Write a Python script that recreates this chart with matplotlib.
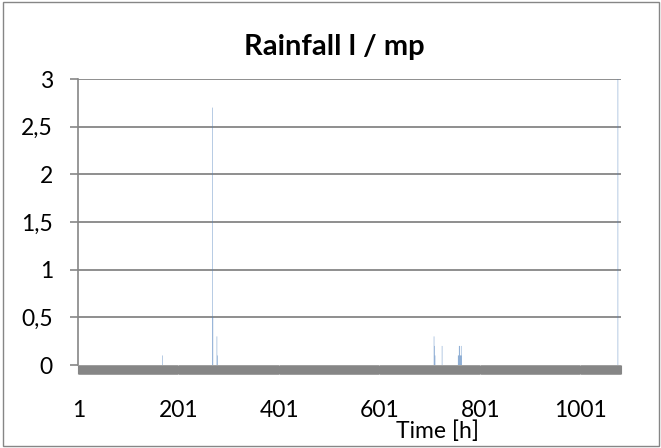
import numpy as np
import matplotlib
matplotlib.use("Agg")
import matplotlib.pyplot as plt
from matplotlib.patches import Rectangle

# --- data: hourly rainfall, only the non-zero hours are listed ---
n_hours = 1080
rain_hours = [169, 268, 269, 277, 278, 709, 710, 711, 725,
              757, 758, 759, 760, 761, 762, 763, 764, 1075]
rain_values = [0.1, 2.7, 0.5, 0.3, 0.1, 0.3, 0.2, 0.1, 0.2,
               0.1, 0.1, 0.2, 0.2, 0.1, 0.1, 0.2, 0.1, 3.0]
x_tick_hours = [1, 201, 401, 601, 801, 1001]
y_ticks = [0, 0.5, 1, 1.5, 2, 2.5, 3]
y_tick_labels = ["0", "0,5", "1", "1,5", "2", "2,5", "3"]

hours = np.arange(1, n_hours + 1)
rain = np.zeros(n_hours)
for h, v in zip(rain_hours, rain_values):
    rain[h - 1] = v

plt.rcParams['font.family'] = ['Lato', 'DejaVu Sans']

W, H = 661, 448
fig = plt.figure(figsize=(W / 100, H / 100), dpi=100)

# chart area border
fig.patches.append(Rectangle((2.5 / W, 2.5 / H), (W - 5) / W, (H - 5) / H,
                             transform=fig.transFigure, fill=False,
                             edgecolor='#868686', linewidth=1.0))

# plot area in pixels
left, right, y0, y3 = 78, 620.7, 365, 79
ax = fig.add_axes([left / W, (H - y0) / H, (right - left) / W, (y0 - y3) / H])

# bars are thinner than a pixel -> no snapping, let antialiasing fade them
bars = ax.bar(hours, rain, width=0.8, color='#4F81BD', linewidth=0)
for b in bars:
    b.set_snap(False)

ax.set_xlim(0.5, n_hours + 0.5)
ax.set_ylim(0, 3)

# gridlines
for y in y_ticks[1:]:
    ax.axhline(y, color='#868686', linewidth=1.3, zorder=0)

for s in ['top', 'right', 'bottom']:
    ax.spines[s].set_visible(False)
ax.spines['left'].set_color('#868686')
ax.spines['left'].set_linewidth(1.2)

ax.set_yticks(y_ticks)
ax.set_yticklabels(y_tick_labels)
ax.tick_params(axis='y', length=6, width=1.2, color='#868686',
               pad=12, labelsize=16.5)

# category axis: tick mark between every hour -> dense grey band
ax.set_xticks(np.arange(0.5, n_hours + 1), minor=True)
ax.tick_params(axis='x', which='minor', length=6.5, width=0.8,
               color='#868686', direction='out')
ax.set_xticks(x_tick_hours)
ax.set_xticklabels([str(h) for h in x_tick_hours])
ax.tick_params(axis='x', which='major', length=0, pad=25, labelsize=16.5)

fig.text(334 / W, 1 - 47 / H, "Rainfall l / mp", ha='center', va='center',
         fontsize=21, fontweight='bold')
fig.text(438 / W, 1 - 431 / H, "Time [h]", ha='center', va='center',
         fontsize=16.5)

fig.savefig("out.png", dpi=100)
